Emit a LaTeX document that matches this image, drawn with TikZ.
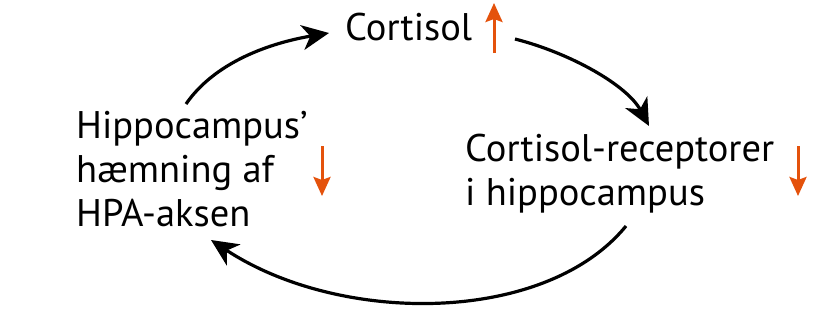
\documentclass[tikz,border=0pt]{standalone}
\usepackage{fontspec}
\setmainfont{PT Sans}
\usetikzlibrary{arrows.meta}
\definecolor{uparrow}{RGB}{228,82,12}
\tikzset{
  lbl/.style={font=\fontsize{38.5}{44}\selectfont, inner sep=0pt, anchor=base west, align=left},
  cycle/.style={line width=3.2pt, -{Stealth[length=27pt, width=25pt, inset=8pt]}},
  trend/.style={line width=3pt, draw=uparrow, -{Stealth[length=19pt, width=17pt, inset=3pt, fill=uparrow]}}
}
\begin{document}
\begin{tikzpicture}[x=1pt,y=-1pt]
\useasboundingbox (0,0) rectangle (822,308);
\node[lbl] (cort) at (345,40) {Cortisol};
\node[lbl] (rec) at (465,205) {Cortisol-receptorer\\i hippocampus};
\node[lbl] (hip) at (76,226) {Hippocampus’\\hæmning af\\HPA-aksen};
% trend arrows
\coordinate (cu1) at (494,53);
\coordinate (cu2) at (494,3);
\coordinate (rd1) at (798,146);
\coordinate (rd2) at (798,196);
\coordinate (ld1) at (322,146);
\coordinate (ld2) at (322,196);
\draw[trend] (cu1) -- (cu2);
\draw[trend] (rd1) -- (rd2);
\draw[trend] (ld1) -- (ld2);
% cycle connectors
\coordinate (a1s) at (186,104);
\coordinate (a1e) at (329,33);
\coordinate (a2s) at (515,39);
\coordinate (a2e) at (649,126);
\coordinate (a3s) at (626,226);
\coordinate (a3e) at (211,240);
\draw[cycle] (a1s) .. controls (215,62) and (270,43) .. (a1e);
\draw[cycle] (a2s) .. controls (570,53) and (627,85) .. (a2e);
\draw[cycle] (a3s) .. controls (545,325) and (340,325) .. (a3e);
\end{tikzpicture}
\end{document}
